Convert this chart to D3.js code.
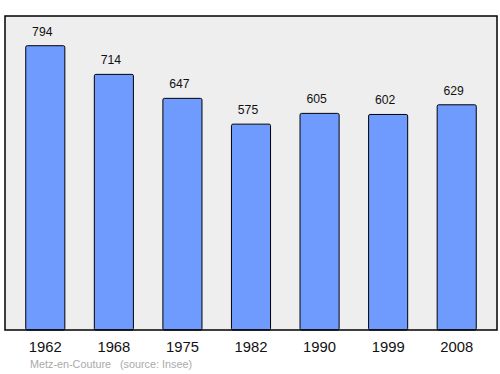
<!DOCTYPE html>
<html>
<head>
<meta charset="utf-8">
<script src="https://cdn.jsdelivr.net/npm/d3@7"></script>
<style>
  body { margin: 0; background: #fff; }
  svg { display: block; font-family: "Liberation Sans", Arial, sans-serif; }
</style>
</head>
<body>
<svg id="chart" width="500" height="374"></svg>
<script>
var years = ["1962", "1968", "1975", "1982", "1990", "1999", "2008"];
var population = [794, 714, 647, 575, 605, 602, 629];
var source_text = ["Metz-en-Couture", "(source: Insee)"];

var frame_left = 5, frame_top = 16, frame_right = 497, frame_bottom = 330;
var bar_color = "#6f9bff";
var bg_color = "#eeeeee";
var label_shift = -3;

const svg = d3.select("#chart");

// fond
svg.append("rect")
    .attr("x", frame_left)
    .attr("y", frame_top)
    .attr("width", frame_right - frame_left)
    .attr("height", frame_bottom - frame_top)
    .attr("fill", bg_color);

var x = d3.scaleBand()
    .domain(years)
    .range([11, 491])
    .paddingInner(0.43)
    .paddingOuter(0.215);

var y = d3.scaleLinear()
    .domain([0, 877])
    .range([frame_bottom, frame_top]);

svg.selectAll(".bar")
    .data(population)
    .enter()
    .append("rect")
    .attr("class", "bar")
    .attr("x", (d, i) => x(years[i]))
    .attr("y", d => y(d))
    .attr("width", x.bandwidth())
    .attr("height", d => frame_bottom - y(d))
    .attr("rx", 1.5)
    .attr("fill", bar_color)
    .attr("stroke", "#000")
    .attr("stroke-width", 1);

svg.selectAll(".val")
    .data(population)
    .enter()
    .append("text")
    .attr("class", "val")
    .attr("x", (d, i) => x(years[i]) + x.bandwidth() / 2 + label_shift)
    .attr("y", d => y(d) - 10)
    .attr("text-anchor", "middle")
    .attr("font-size", 12.2)
    .attr("fill", "#111")
    .text(d => d);

// cadre par-dessus
svg.append("rect")
    .attr("x", frame_left)
    .attr("y", frame_top)
    .attr("width", frame_right - frame_left)
    .attr("height", frame_bottom - frame_top)
    .attr("fill", "none")
    .attr("stroke", "#000")
    .attr("stroke-width", 1.5);

var xAxis = svg.append("g")
    .attr("transform", "translate(0," + frame_bottom + ")")
    .call(d3.axisBottom(x).tickSize(0).tickPadding(11));
xAxis.select(".domain").remove();
xAxis.selectAll("text")
    .attr("font-size", 14.8)
    .attr("font-family", "Liberation Sans, Arial, sans-serif")
    .attr("fill", "#111");

svg.append("text")
    .attr("x", 30)
    .attr("y", 367.5)
    .attr("font-size", 10.8)
    .attr("fill", "#aaa")
    .text(source_text[0]);

svg.append("text")
    .attr("x", 120)
    .attr("y", 367.5)
    .attr("font-size", 10.8)
    .attr("fill", "#aaa")
    .text(source_text[1]);
</script>
</body>
</html>
